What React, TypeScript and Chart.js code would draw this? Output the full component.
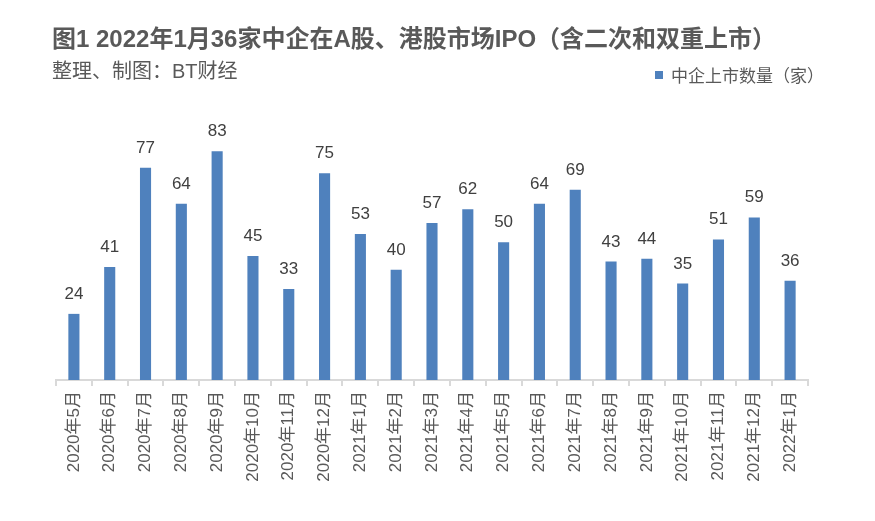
import React, { useEffect, useRef } from "react";
import { Chart, registerables } from "chart.js";

Chart.register(...registerables);

const titleText = "图1 2022年1月36家中企在A股、港股市场IPO（含二次和双重上市）";
const subtitleText = "整理、制图：BT财经";
const seriesName = "中企上市数量（家）";

const months = [
  "2020年5月", "2020年6月", "2020年7月", "2020年8月", "2020年9月", "2020年10月",
  "2020年11月", "2020年12月", "2021年1月", "2021年2月", "2021年3月", "2021年4月",
  "2021年5月", "2021年6月", "2021年7月", "2021年8月", "2021年9月", "2021年10月",
  "2021年11月", "2021年12月", "2022年1月",
];

const listings = [24, 41, 77, 64, 83, 45, 33, 75, 53, 40, 57, 62, 50, 64, 69, 43, 44, 35, 51, 59, 36];

const BAR_COLOR = "#4f81bd";
const TEXT_COLOR = "#595959";
const LABEL_COLOR = "#404040";
const AXIS_COLOR = "#d9d9d9";
const CJK = "'Liberation Sans', 'Noto Sans CJK SC', sans-serif";

// Heading, source line, legend and bar value labels drawn straight onto the canvas
const decorations = {
  id: "decorations",
  afterDatasetsDraw(chart: any) {
    const ctx = chart.ctx as CanvasRenderingContext2D;
    ctx.save();

    ctx.fillStyle = TEXT_COLOR;
    ctx.textAlign = "left";
    ctx.textBaseline = "middle";
    ctx.font = `bold 24px ${CJK}`;
    ctx.fillText(titleText, 52, 40);

    ctx.font = `20px ${CJK}`;
    ctx.fillText(subtitleText, 52, 72.5);

    // legend
    ctx.fillStyle = BAR_COLOR;
    ctx.fillRect(655, 71, 8, 8);
    ctx.fillStyle = TEXT_COLOR;
    ctx.font = `17px ${CJK}`;
    ctx.fillText(seriesName, 671, 77);

    // values above bars
    const meta = chart.getDatasetMeta(0);
    ctx.fillStyle = LABEL_COLOR;
    ctx.font = `17px ${CJK}`;
    ctx.textAlign = "center";
    ctx.textBaseline = "alphabetic";
    meta.data.forEach((bar: any, i: number) => {
      ctx.fillText(String(listings[i]), bar.x, bar.y - 15);
    });

    ctx.restore();
  },
};

export default function App() {
  const canvasRef = useRef<HTMLCanvasElement | null>(null);

  useEffect(() => {
    const canvas = canvasRef.current;
    if (!canvas) return;
    const chart = new Chart(canvas, {
      type: "bar",
      data: {
        labels: months,
        datasets: [
          {
            label: seriesName,
            data: listings,
            backgroundColor: BAR_COLOR,
            borderWidth: 0,
            barPercentage: 0.31,
            categoryPercentage: 1,
          },
        ],
      },
      plugins: [decorations],
      options: {
        responsive: false,
        animation: false,
        devicePixelRatio: 1,
        layout: { padding: { left: 56, right: 67, top: 132, bottom: 0 } },
        plugins: {
          legend: { display: false },
          title: { display: false },
          tooltip: { enabled: false },
        },
        scales: {
          x: {
            offset: true,
            grid: {
              display: true,
              offset: true,
              drawOnChartArea: false,
              drawTicks: true,
              tickLength: 6,
              color: AXIS_COLOR,
              lineWidth: 2,
            },
            border: { display: true, color: AXIS_COLOR, width: 2 },
            ticks: {
              autoSkip: false,
              minRotation: 90,
              maxRotation: 90,
              padding: 5,
              color: TEXT_COLOR,
              font: { family: CJK, size: 17 },
            },
            afterFit(scale: any) {
              scale.height = 141;
            },
          },
          y: {
            display: false,
            min: 0,
            max: 90,
          },
        },
      },
    });
    return () => chart.destroy();
  }, []);

  return (
    <div style={{ position: "fixed", left: 0, top: 0, width: 875, height: 521, background: "#fff" }}>
      <canvas ref={canvasRef} width={875} height={521} style={{ display: "block" }} />
    </div>
  );
}
